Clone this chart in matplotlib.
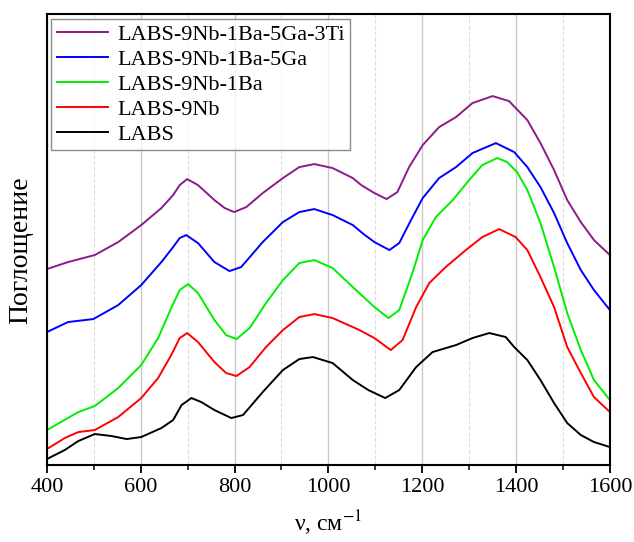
import matplotlib
matplotlib.use("Agg")
import matplotlib.pyplot as plt
from matplotlib.ticker import MultipleLocator

plt.rcParams['font.family'] = ['Liberation Serif', 'DejaVu Serif']
plt.rcParams['mathtext.fontset'] = 'stix'

# ---- data (arbitrary absorbance units) ----
wn_labs = [400, 438, 467, 502, 538, 570, 601, 644, 669, 687, 708, 729, 757, 793, 818, 860, 903,
           938, 967, 1009, 1052, 1085, 1121, 1151, 1187, 1222, 1272, 1307, 1343, 1378, 1396,
           1424, 1452, 1481, 1509, 1538, 1566, 1600]
ab_labs = [0.06, 0.15, 0.24, 0.31, 0.29, 0.26, 0.28, 0.37, 0.45, 0.60, 0.67, 0.63, 0.55, 0.47, 0.50,
           0.73, 0.95, 1.06, 1.08, 1.02, 0.85, 0.75, 0.67, 0.75, 0.98, 1.13, 1.20, 1.27, 1.32, 1.28,
           1.18, 1.05, 0.85, 0.62, 0.42, 0.30, 0.23, 0.18]

wn_nb = [400, 438, 467, 502, 552, 601, 637, 665, 683, 699, 722, 757, 782, 804, 832, 867, 903,
         938, 970, 1009, 1052, 1066, 1098, 1133, 1158, 1187, 1215, 1250, 1293, 1328, 1364, 1399,
         1424, 1452, 1481, 1509, 1538, 1566, 1600]
ab_nb = [0.16, 0.27, 0.33, 0.35, 0.48, 0.67, 0.87, 1.10, 1.27, 1.32, 1.23, 1.03, 0.92, 0.89, 0.98,
         1.18, 1.35, 1.48, 1.51, 1.47, 1.38, 1.35, 1.27, 1.15, 1.25, 1.58, 1.82, 1.98, 2.15, 2.28,
         2.36, 2.28, 2.15, 1.88, 1.58, 1.18, 0.92, 0.68, 0.53]

wn_ba = [400, 467, 502, 552, 601, 637, 665, 683, 701, 722, 757, 782, 804, 832, 867, 903, 938,
         970, 1009, 1052, 1075, 1098, 1128, 1151, 1179, 1201, 1229, 1265, 1300, 1328, 1360, 1381,
         1402, 1424, 1452, 1481, 1509, 1538, 1566, 1600]
ab_ba = [0.35, 0.53, 0.59, 0.77, 1.00, 1.27, 1.57, 1.75, 1.81, 1.72, 1.45, 1.30, 1.26, 1.37, 1.62,
         1.85, 2.02, 2.05, 1.97, 1.78, 1.68, 1.58, 1.47, 1.55, 1.92, 2.25, 2.48, 2.65, 2.85, 3.00,
         3.07, 3.03, 2.93, 2.75, 2.42, 1.98, 1.52, 1.15, 0.85, 0.65]

wn_ga = [400, 445, 499, 552, 601, 644, 669, 683, 697, 722, 757, 789, 814, 860, 903, 938, 970,
         1009, 1052, 1075, 1098, 1130, 1151, 1176, 1201, 1236, 1272, 1307, 1357, 1396, 1424,
         1452, 1481, 1509, 1538, 1566, 1600]
ab_ga = [1.33, 1.43, 1.46, 1.60, 1.80, 2.03, 2.18, 2.27, 2.30, 2.22, 2.03, 1.94, 1.98, 2.23, 2.43,
         2.53, 2.56, 2.50, 2.40, 2.31, 2.23, 2.15, 2.22, 2.45, 2.67, 2.87, 2.98, 3.12, 3.22, 3.13,
         2.98, 2.78, 2.52, 2.22, 1.95, 1.75, 1.55]

wn_ti = [400, 445, 502, 552, 601, 644, 669, 683, 699, 722, 757, 779, 799, 825, 860, 903, 938,
         970, 1009, 1052, 1070, 1098, 1124, 1147, 1172, 1201, 1236, 1272, 1307, 1350, 1385,
         1424, 1452, 1481, 1509, 1538, 1566, 1600]
ab_ti = [1.96, 2.03, 2.10, 2.23, 2.40, 2.57, 2.70, 2.80, 2.86, 2.80, 2.65, 2.57, 2.53, 2.58, 2.72,
         2.87, 2.98, 3.01, 2.97, 2.87, 2.80, 2.72, 2.66, 2.73, 2.98, 3.20, 3.38, 3.48, 3.62, 3.69,
         3.64, 3.45, 3.22, 2.95, 2.65, 2.43, 2.25, 2.10]

labels = ["LABS-9Nb-1Ba-5Ga-3Ti", "LABS-9Nb-1Ba-5Ga", "LABS-9Nb-1Ba", "LABS-9Nb", "LABS"]
colors = ["#8b1a8b", "#0000ff", "#00ee00", "#ff0000", "#000000"]

# =========================
# PLOT
# =========================
fig = plt.figure(figsize=(6.34, 5.42), dpi=100)
ax = fig.add_axes([0.074, 0.142, 0.888, 0.832])

series = [(wn_ti, ab_ti), (wn_ga, ab_ga), (wn_ba, ab_ba), (wn_nb, ab_nb), (wn_labs, ab_labs)]
for (x, y), lab, c in zip(series, labels, colors):
    ax.plot(x, y, color=c, lw=1.4, label=lab, solid_joinstyle='round')

ax.set_xlim(400, 1600)
ax.set_ylim(0, 4.51)
ax.xaxis.set_major_locator(MultipleLocator(200))
ax.xaxis.set_minor_locator(MultipleLocator(100))
ax.set_yticks([])
ax.grid(axis='x', which='major', color='#c8c8c8', lw=1.0)
ax.grid(axis='x', which='minor', color='#dddddd', lw=0.8, ls='--')
ax.set_axisbelow(True)

ax.tick_params(axis='x', which='major', direction='out', length=6, width=1.3, labelsize=16)
ax.tick_params(axis='x', which='minor', direction='out', length=3.5, width=1.1)
for s in ax.spines.values():
    s.set_linewidth(1.5)

ax.set_xlabel(r"ν, см$^{-1}$", fontsize=17, labelpad=8)
ax.set_ylabel("Поглощение", fontsize=20)
ax.yaxis.set_label_coords(-0.024, 0.477)

leg = ax.legend(loc='upper left', fontsize=16, frameon=True, fancybox=False,
                edgecolor='#707070', handlelength=2.3, labelspacing=0.2,
                borderaxespad=0.2, borderpad=0.25, handletextpad=0.4)
leg.get_frame().set_linewidth(1.0)

fig.savefig("out.png", dpi=100)
